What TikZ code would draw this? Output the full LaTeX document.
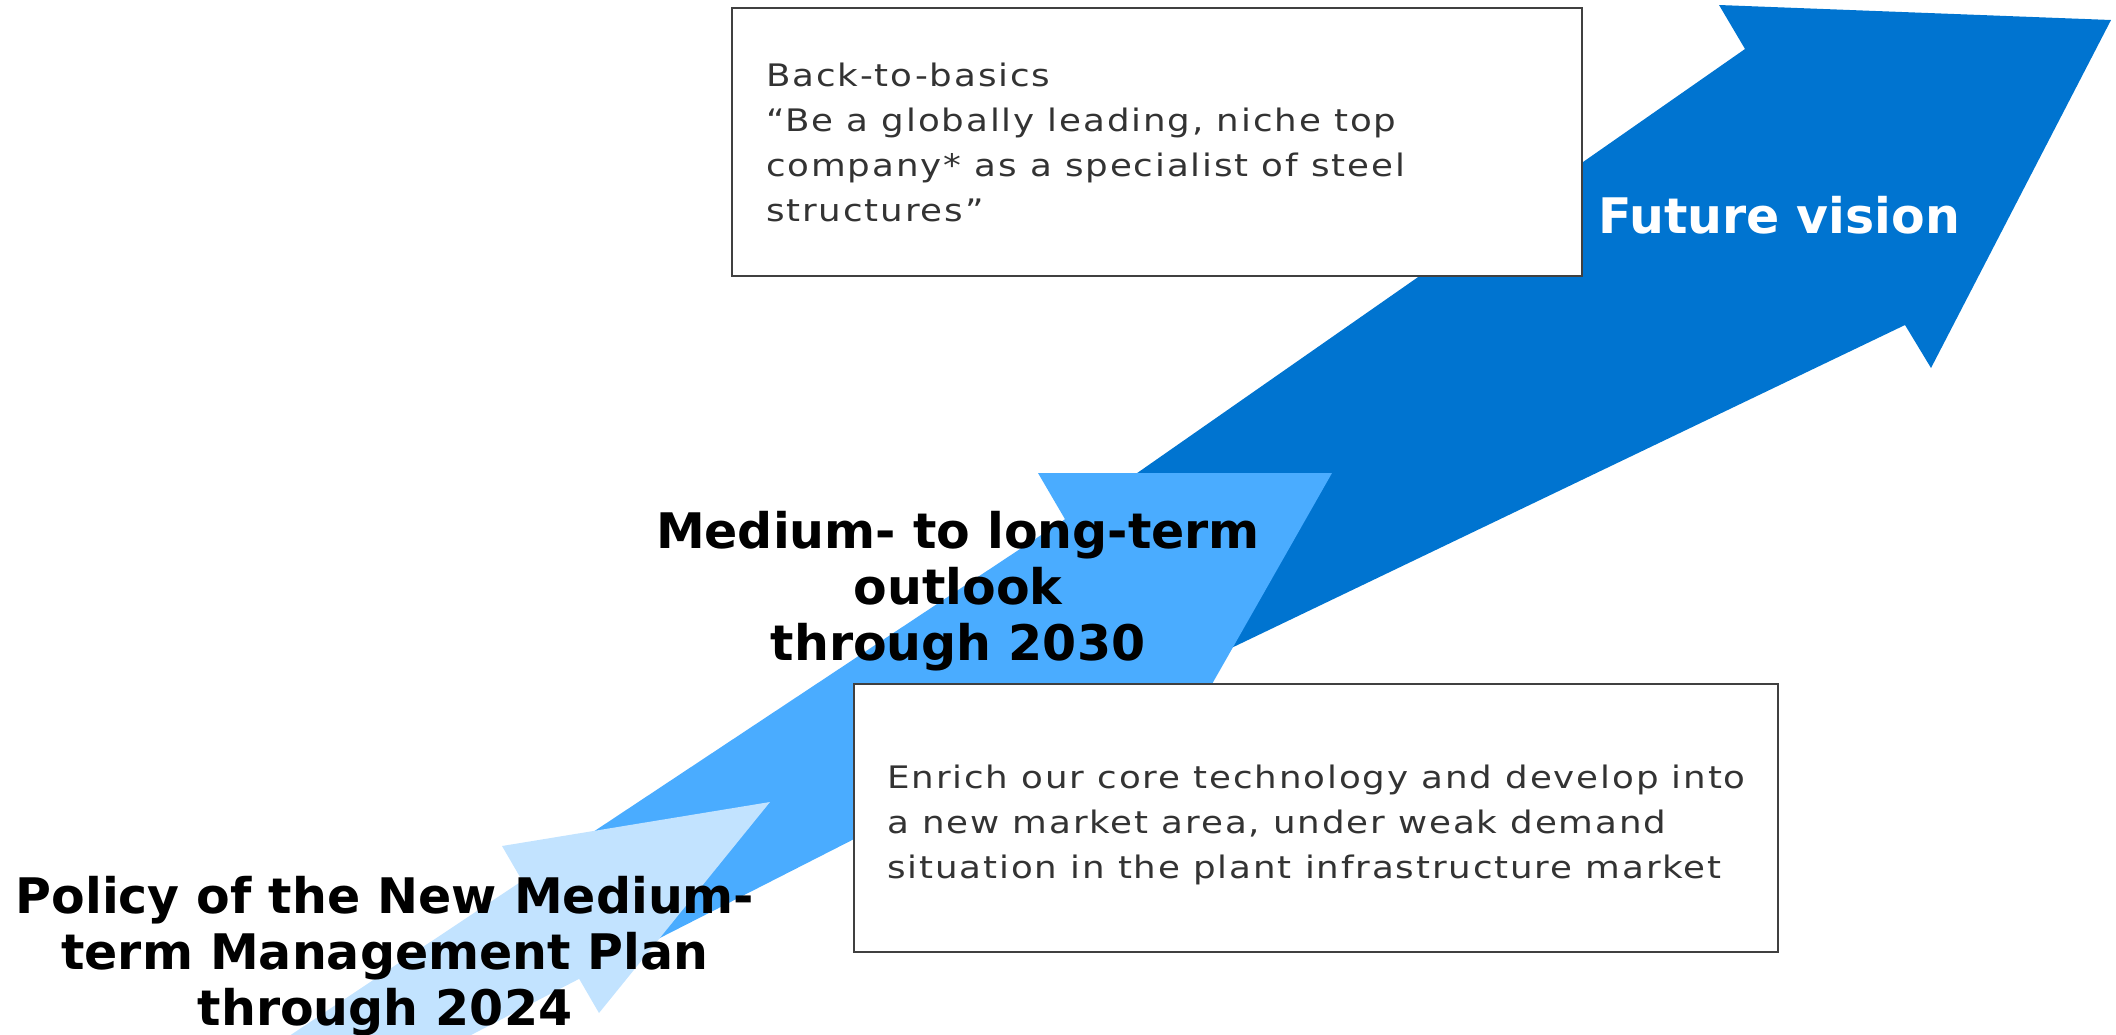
\documentclass[tikz,border=0pt]{standalone}
\usepackage{fontspec}
\setmainfont{DejaVu Sans}
\newfontfamily\bodyfont[FakeStretch=1.15,LetterSpace=6]{DejaVu Sans}
\usetikzlibrary{positioning}

\definecolor{darkarrow}{RGB}{0,116,208}
\definecolor{midarrow}{RGB}{74,172,255}
\definecolor{lightarrow}{RGB}{194,227,255}
\definecolor{boxtext}{RGB}{51,51,51}
\definecolor{boxline}{RGB}{64,64,64}

\begin{document}
\begin{tikzpicture}[x=1pt,y=-1pt,
    frame/.style={draw=boxline,line width=2pt,fill=white,anchor=north west,inner sep=0pt,minimum height=268pt},
    msgtext/.style={align=left,text=boxtext,inner sep=0pt,font=\bodyfont\fontsize{31}{45}\selectfont},
    stage/.style={align=center,inner sep=0pt,font=\fontsize{49}{56}\selectfont\bfseries}]
\useasboundingbox (0,0) rectangle (2116,1034);
\clip (0,0) rectangle (2116,1034);

% arrows, back to front
\fill[darkarrow] (1120,485) -- (1745,49) -- (1719,5) -- (2111,20) -- (1931,368) -- (1905,325) -- (1200,663) -- cycle;
\fill[midarrow] (590,834) -- (1100,496) -- (1180,673) -- (650,943) -- cycle;
\fill[midarrow] (1038,473) -- (1332,473) -- (1187,728) -- cycle;
\fill[lightarrow] (193,1100) -- (540,869) -- (600,968) -- (346,1100) -- cycle;
\fill[lightarrow] (502,846) -- (770,802) -- (599,1013) -- cycle;

% boxes
\node[frame,minimum width=850pt] (visionbox) at (731,7) {};
\node[msgtext,anchor=west,right=35pt of visionbox.west] (visiontext)
    {Back-to-basics\\“Be a globally leading, niche top\\company* as a specialist of steel\\structures”};
\node[frame,minimum width=924pt] (corebox) at (853,683) {};
\node[msgtext,anchor=west,right=34pt of corebox.west,yshift=-7pt] (coretext)
    {Enrich our core technology and develop into\\a new market area, under weak demand\\situation in the plant infrastructure market};

% stage labels
\node[stage,anchor=north] (outlook) at (958,511) {Medium- to long-term\\outlook\\through 2030};
\node[stage,anchor=north] (policy) at (385,876) {Policy of the New Medium-\\term Management Plan\\through 2024};
\node[stage,text=white,anchor=base west] (future) at (1598,233) {Future vision};
\end{tikzpicture}
\end{document}
